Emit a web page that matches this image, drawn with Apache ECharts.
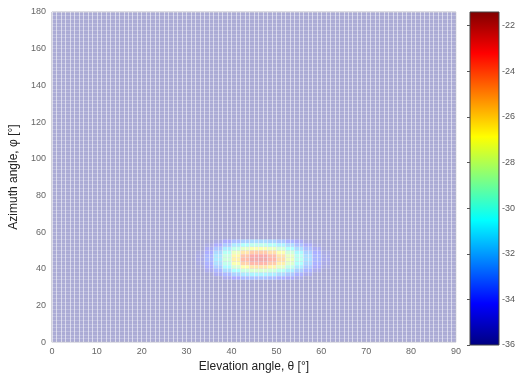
<!DOCTYPE html>
<html>
<head>
<meta charset="utf-8">
<title>Gain map</title>
<script src="https://cdn.jsdelivr.net/npm/echarts@6/dist/echarts.min.js"></script>
<style>
  html, body { margin: 0; padding: 0; background: #fff; }
  #chart { width: 518px; height: 378px; }
</style>
</head>
<body>
<div id="chart"></div>
<script>
// cell lower-left corners (degrees), each cell is CELL x CELL wide
const CELL = 2
const thetaCells = [30, 32, 34, 36, 38, 40, 42, 44, 46, 48, 50, 52, 54, 56, 58, 60, 62]
const phiCells = [34, 36, 38, 40, 42, 44, 46, 48, 50, 52, 54]

// gain in dB, one row per phiCells entry (outside = floor -36)
const gainDb = [
  [-36, -36, -36, -35.9, -35.0, -34.2, -33.5, -33.2, -33.1, -33.4, -33.9, -34.5, -35.3, -36, -36, -36, -36],
  [-36, -36, -35.9, -34.8, -33.6, -32.5, -31.5, -31.0, -31.0, -31.3, -32.1, -32.9, -33.9, -35.1, -36, -36, -36],
  [-36, -36, -35.1, -33.7, -32.1, -30.6, -29.2, -28.5, -28.5, -29.0, -30.0, -31.3, -32.7, -33.8, -35.2, -36, -36],
  [-36, -35.8, -34.4, -32.7, -30.7, -28.6, -26.9, -25.8, -25.8, -26.5, -28.0, -29.6, -31.4, -33.0, -34.4, -35.6, -36],
  [-36, -35.5, -33.9, -31.9, -29.6, -27.1, -24.9, -23.8, -23.7, -24.6, -26.2, -28.3, -30.4, -32.3, -33.9, -35.3, -36],
  [-36, -35.3, -33.6, -31.5, -29.0, -26.3, -24.0, -22.7, -22.6, -23.7, -25.4, -27.7, -29.9, -31.9, -33.7, -35.1, -36],
  [-36, -35.4, -33.7, -31.6, -29.2, -26.6, -24.4, -23.1, -23.0, -24.0, -25.7, -27.9, -30.0, -32.0, -33.7, -35.2, -36],
  [-36, -35.6, -34.1, -32.2, -30.1, -27.8, -25.8, -24.6, -24.6, -25.5, -27.1, -28.9, -30.8, -32.6, -34.0, -35.5, -36],
  [-36, -36, -34.7, -33.1, -31.4, -29.6, -28.1, -27.1, -27.1, -27.8, -28.9, -30.4, -32.0, -33.4, -34.8, -35.9, -36],
  [-36, -36, -35.5, -34.3, -32.9, -31.5, -30.4, -29.7, -29.7, -30.2, -31.1, -32.1, -33.3, -34.5, -35.6, -36, -36],
  [-36, -36, -36, -35.4, -34.3, -33.3, -32.6, -32.1, -32.1, -32.4, -33.0, -33.8, -34.7, -35.6, -36, -36, -36]
]

const gainMin = -36
const gainMax = -21.4

// jet colormap for the colour bar, and the same washed out towards white for the plot
const jet = ['#000080', '#0000ff', '#0080ff', '#00ffff', '#80ff80', '#ffff00', '#ff8000', '#ff0000', '#800000']
const jetPale = ['#ababd5', '#ababff', '#abd5ff', '#abffff', '#d5ffd5', '#ffffab', '#ffd5ab', '#ffabab', '#d5abab']

const cells = []
phiCells.forEach((phi, i) => {
  thetaCells.forEach((theta, j) => {
    cells.push([theta, phi, gainDb[i][j]])
  })
})

const font = 'Liberation Sans, Arial, sans-serif'
const chart = echarts.init(document.getElementById('chart'))

chart.setOption({
  animation: false,
  grid: [
    {
      left: 48, top: 12, width: 408, height: 333,
      show: true, backgroundColor: jetPale[0], borderColor: '#b8b8c8', borderWidth: 1
    },
    // colour bar frame
    { left: 470, top: 12, width: 32, height: 333, show: false }
  ],
  xAxis: [
    {
      gridIndex: 0, type: 'value', min: 0, max: 90, interval: 10,
      name: 'Elevation angle, θ [°]', nameLocation: 'middle', nameGap: 17,
      nameTextStyle: { fontFamily: font, fontSize: 12, color: '#222' },
      axisLine: { show: false },
      axisTick: { show: false },
      axisLabel: { fontFamily: font, fontSize: 9, color: '#666', margin: 5 },
      splitLine: { show: false }
    },
    // fine white mesh lines drawn above the cells
    {
      gridIndex: 0, type: 'value', min: 0, max: 90, interval: 1, z: 5,
      axisLine: { show: false }, axisTick: { show: false }, axisLabel: { show: false },
      splitLine: { show: true, lineStyle: { color: '#ffffff', opacity: 0.55, width: 1 } }
    },
    { gridIndex: 1, type: 'value', show: false, min: 0, max: 1 }
  ],
  yAxis: [
    {
      gridIndex: 0, type: 'value', min: 0, max: 180, interval: 20,
      name: 'Azimuth angle, φ [°]', nameLocation: 'middle', nameGap: 26,
      nameTextStyle: { fontFamily: font, fontSize: 12, color: '#222' },
      axisLine: { show: false },
      axisTick: { show: false },
      axisLabel: { fontFamily: font, fontSize: 9, color: '#666', margin: 6 },
      splitLine: { show: false }
    },
    {
      gridIndex: 0, type: 'value', min: 0, max: 180, interval: 2, z: 5,
      axisLine: { show: false }, axisTick: { show: false }, axisLabel: { show: false },
      splitLine: { show: true, lineStyle: { color: '#ffffff', opacity: 0.22, width: 1 } }
    },
    {
      gridIndex: 1, type: 'value', min: gainMin, max: gainMax, interval: 2, position: 'right', z: 5,
      axisLine: { show: false },
      axisTick: { show: true, inside: true, length: 3, lineStyle: { color: '#555' } },
      axisLabel: { fontFamily: font, fontSize: 9, color: '#555', margin: 3, showMaxLabel: false },
      splitLine: { show: false }
    }
  ],
  visualMap: {
    type: 'continuous',
    show: false,
    min: gainMin,
    max: gainMax,
    seriesIndex: 0,
    dimension: 2,
    inRange: { color: jetPale }
  },
  series: [
    {
      type: 'custom',
      xAxisIndex: 0,
      yAxisIndex: 0,
      data: cells,
      renderItem: (params, api) => {
        const a = api.coord([api.value(0), api.value(1) + CELL])
        const b = api.coord([api.value(0) + CELL, api.value(1)])
        return {
          type: 'rect',
          shape: { x: a[0], y: a[1], width: b[0] - a[0], height: b[1] - a[1] },
          style: { fill: api.visual('color') }
        }
      }
    },
    // colour bar: one rect spanning the whole gain range on the bar's own axis
    {
      type: 'custom',
      xAxisIndex: 2,
      yAxisIndex: 2,
      silent: true,
      data: [[0, gainMin, gainMax]],
      renderItem: (params, api) => {
        const a = api.coord([0, api.value(2)])
        const b = api.coord([1, api.value(1)])
        const stops = jet.map((c, k) => ({ offset: k / (jet.length - 1), color: c }))
        return {
          type: 'rect',
          shape: { x: a[0], y: a[1], width: b[0] - a[0], height: b[1] - a[1] },
          style: {
            fill: new echarts.graphic.LinearGradient(0, 1, 0, 0, stops),
            stroke: '#444',
            lineWidth: 1
          }
        }
      }
    }
  ]
})
</script>
</body>
</html>
